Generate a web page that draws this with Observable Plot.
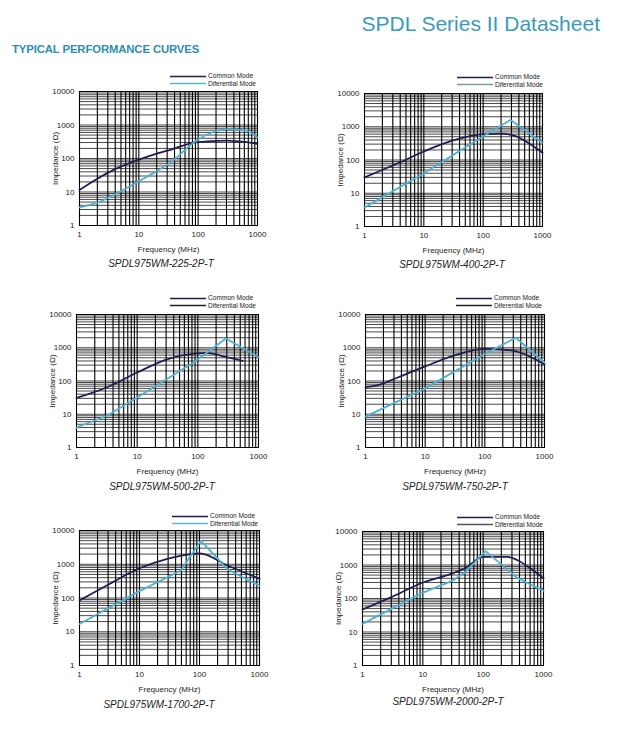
<!DOCTYPE html>
<html><head><meta charset="utf-8">
<script src="https://cdn.jsdelivr.net/npm/d3@7"></script>
<script src="https://cdn.jsdelivr.net/npm/@observablehq/plot@0.6"></script>
<style>
body{margin:0;background:#fff;}
#page{position:relative;width:621px;height:747px;overflow:hidden;background:#fff;font-family:"Liberation Sans",Arial,sans-serif;}
.title{position:absolute;right:21px;top:12px;font-size:21px;color:#3a9aba;white-space:nowrap;}
.sub{position:absolute;left:12px;top:43px;font-size:11.3px;font-weight:bold;color:#2e8db0;white-space:nowrap;letter-spacing:-0.1px}
.cap{position:absolute;font-style:italic;font-size:10px;line-height:11px;color:#222;transform:translateX(-50%);white-space:nowrap}
.legend{position:absolute;font-size:6.6px;color:#222;}
.legend div{height:7.5px;line-height:7.5px;display:flex;align-items:center;white-space:nowrap}
.legend svg{margin-right:2px}
.plotbox{position:absolute;}
</style>
</head><body><div id="page">
<div class="title">SPDL Series II Datasheet</div>
<div class="sub">TYPICAL PERFORMANCE CURVES</div>
</div>
<script>
// ---- data: [frequency MHz, impedance Ω] ----
const cm225 = [[1,11.5],[2,25],[4,48],[10,92],[20,140],[35,185],[90,305],[300,340],[1000,275]];
const dm225 = [[1,3.5],[2,4.8],[4,8.5],[10,21],[20,42],[35,78],[90,330],[300,740],[600,700],[1000,420]];

const cm400 = [[1,30],[3.5,77],[10,180],[30,380],[100,600],[200,620],[320,550],[1000,165]];
const dm400 = [[1,3.7],[10,40],[100,520],[290,1600],[1000,330]];

const cm500 = [[1,31],[3.2,65],[10,180],[31,450],[86,670],[140,700],[300,520],[550,400]];
const dm500 = [[1,4],[3.2,9],[10,32],[31,115],[86,365],[290,1900],[1000,520]];

const cm750 = [[1,65],[1.5,72],[3.4,125],[10,275],[31,590],[100,930],[280,830],[600,520],[1000,315]];
const dm750 = [[1,8.5],[10,60],[100,650],[330,2000],[1000,360]];

const cm1700 = [[1,85],[2.9,240],[10,760],[29,1450],[50,1800],[100,2100],[300,900],[1000,370]];
const dm1700 = [[1,17],[10,160],[49,650],[105,5000],[295,700],[1000,230]];

const cm2000 = [[1,47],[3,110],[10,300],[30,550],[50,800],[100,1750],[250,1750],[400,1300],[600,800],[1000,400]];
const dm2000 = [[1,17.5],[10,150],[30,330],[50,600],[110,2600],[360,420],[1000,170]];

const partNames = ["SPDL975WM-225-2P-T","SPDL975WM-400-2P-T","SPDL975WM-500-2P-T","SPDL975WM-750-2P-T","SPDL975WM-1700-2P-T","SPDL975WM-2000-2P-T"];
const seriesNames = ["Common Mode","Diferential Mode"];

const xTicks = [1,10,100,1000];
const yTicks = [1,10,100,1000,10000];
const xGrid = [1,2,3,4,5,6,7,8,9,10,20,30,40,50,60,70,80,90,100,200,300,400,500,600,700,800,900,1000];
const yGrid = [1,2,3,4,5,6,7,8,9,10,20,30,40,50,60,70,80,90,100,200,300,400,500,600,700,800,900,1000,2000,3000,4000,5000,6000,7000,8000,9000,10000];

// ---- layout ----
const layout = [
  {fx:79, fy:91, fw:178, fh:134, lx:170, ly:76, cx:161, cy:258, legDm:"#5ab4d4"},
  {fx:364,fy:93, fw:178, fh:133, lx:457, ly:77, cx:452, cy:259, legDm:"#7d9aa6"},
  {fx:76, fy:314,fw:182, fh:133, lx:170, ly:298,cx:162, cy:481, legDm:"#222"},
  {fx:365,fy:314,fw:179, fh:133, lx:456, ly:298,cx:455, cy:481, legDm:"#222"},
  {fx:79, fy:530,fw:180, fh:135, lx:172, ly:516,cx:159, cy:699, legDm:"#5ab4d4"},
  {fx:362,fy:531,fw:181, fh:134, lx:457, ly:517,cx:448, cy:696, legDm:"#555"}
];
const cmSeries = [cm225,cm400,cm500,cm750,cm1700,cm2000];
const dmSeries = [dm225,dm400,dm500,dm750,dm1700,dm2000];
const dmCurves = ["monotone-x","linear","linear","linear","linear","linear"];

const CM_COLOR = "#1e1e52";
const DM_COLOR = "#4fb0d2";
const ML = 46, MR = 14, MT = 4, MB = 30;
const page = document.getElementById("page");

layout.forEach((L, i) => {
  const toRows = arr => arr.map(([f, z]) => ({f, z}));
  const chart = Plot.plot({
    width: ML + L.fw + MR,
    height: MT + L.fh + MB,
    marginLeft: ML, marginRight: MR, marginTop: MT, marginBottom: MB,
    style: {background: "transparent", fontFamily: "'Liberation Sans', Arial, sans-serif", color: "#222", overflow: "visible"},
    x: {type: "log", domain: [1, 1000]},
    y: {type: "log", domain: [1, 10000]},
    marks: [
      Plot.gridY(yGrid, {stroke: "#111", strokeOpacity: 0.85, strokeWidth: 0.9}),
      Plot.gridX(xGrid, {stroke: "#000", strokeOpacity: 1, strokeWidth: 1.1}),
      Plot.frame({stroke: "#000", strokeWidth: 1}),
      Plot.axisX({ticks: xTicks, tickFormat: d => String(d), tickSize: 0, tickPadding: 6,
        label: "Frequency (MHz)", labelAnchor: "center", labelArrow: "none", labelOffset: 26, fontSize: 8}),
      Plot.axisY({ticks: yTicks, tickFormat: d => String(d), tickSize: 0, tickPadding: 5,
        label: "Impedance (Ω)", labelAnchor: "center", labelArrow: "none", labelOffset: 27, fontSize: 8}),
      Plot.line(toRows(cmSeries[i]), {x: "f", y: "z", stroke: CM_COLOR, strokeWidth: 1.8, curve: "monotone-x"}),
      Plot.line(toRows(dmSeries[i]), {x: "f", y: "z", stroke: DM_COLOR, strokeWidth: 1.8, curve: dmCurves[i]})
    ]
  });
  const box = document.createElement("div");
  box.className = "plotbox";
  box.style.left = (L.fx - ML) + "px";
  box.style.top = (L.fy - MT) + "px";
  box.appendChild(chart);
  page.appendChild(box);

  // legend
  const leg = document.createElement("div");
  leg.className = "legend";
  leg.style.left = L.lx + "px";
  leg.style.top = (L.ly - 3.75) + "px";
  [[seriesNames[0], CM_COLOR], [seriesNames[1], L.legDm]].forEach(([name, col]) => {
    const row = document.createElement("div");
    row.innerHTML = `<svg width="36" height="7"><line x1="0" x2="36" y1="3.5" y2="3.5" stroke="${col}" stroke-width="1.6"/></svg><span>${name}</span>`;
    leg.appendChild(row);
  });
  page.appendChild(leg);

  // caption
  const cap = document.createElement("div");
  cap.className = "cap";
  cap.style.left = L.cx + "px";
  cap.style.top = L.cy + "px";
  cap.textContent = partNames[i];
  page.appendChild(cap);
});
</script>
</body></html>
